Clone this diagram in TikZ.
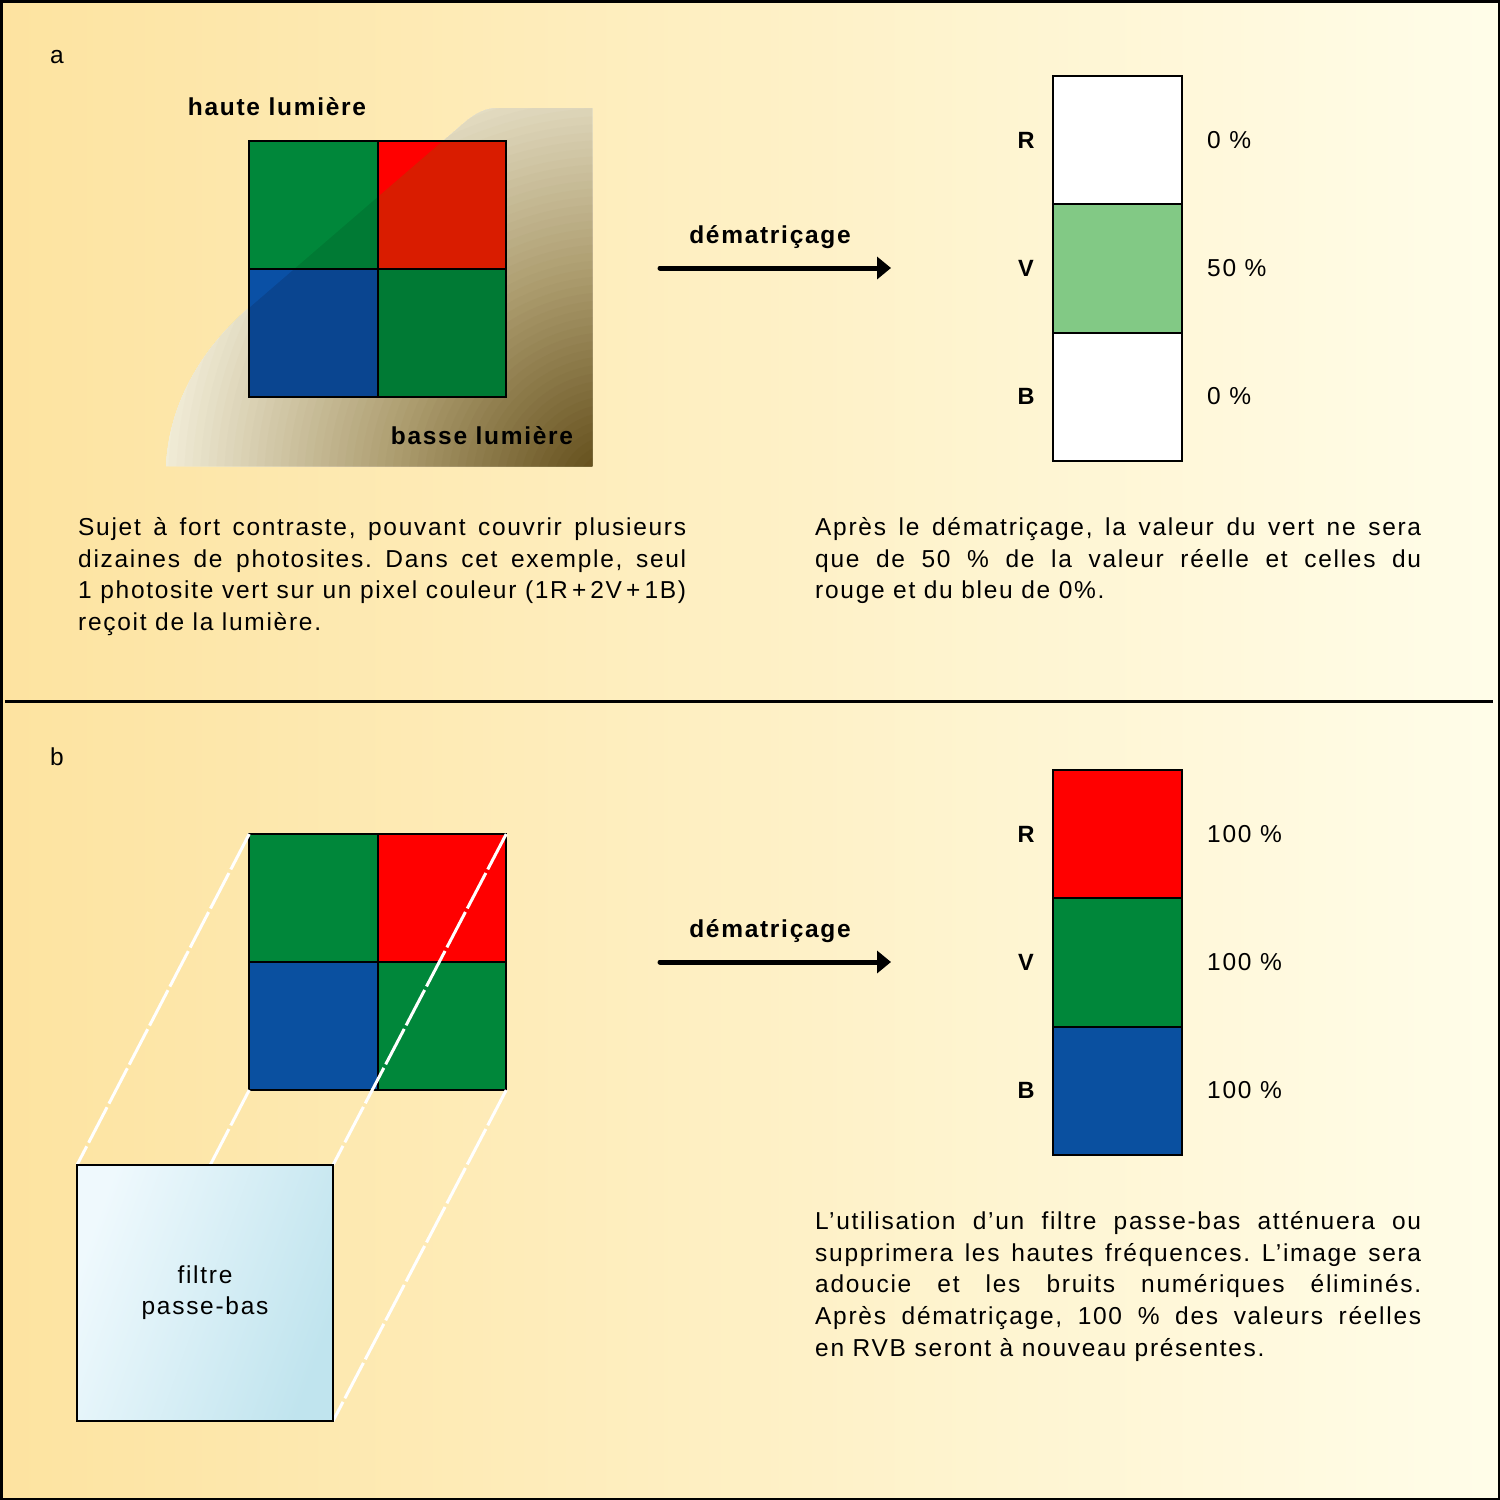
\documentclass[tikz,border=0pt]{standalone}
\usepackage{fontspec}
\setmainfont{Liberation Sans}[LetterSpace=7]
\usetikzlibrary{arrows.meta}
\definecolor{bgl}{HTML}{FDE3A0}
\definecolor{bgr}{HTML}{FFFDE9}
\definecolor{gH}{HTML}{00873A}
\definecolor{gS}{HTML}{007A34}
\definecolor{rH}{HTML}{FF0000}
\definecolor{rS}{HTML}{D91C00}
\definecolor{bH}{HTML}{0A50A5}
\definecolor{bS}{HTML}{0A4590}
\definecolor{bB}{HTML}{0A50A0}
\definecolor{lg}{HTML}{82C985}
\definecolor{shdark}{HTML}{5A4410}
\definecolor{shmid}{HTML}{AC9C6E}
\definecolor{shlight}{HTML}{F7F3E0}
\definecolor{fl}{HTML}{EFF9FD}
\definecolor{fr}{HTML}{C0E4EE}
\newcommand\jl[1]{\hbox to \hsize{#1}}
\newcommand\lastl[1]{\hbox{#1}}
\newcommand\para[2]{\vtop{\hsize=#1\relax\fontsize{24.5}{31.7}\selectfont\frenchspacing #2}}
\begin{document}
\begin{tikzpicture}[x=1pt,y=-1pt,
  cell/.style={draw=black, line width=2.2pt, minimum width=128.5pt, minimum height=128pt, inner sep=0pt, outer sep=0pt},
  bar/.style={draw=black, line width=2pt, minimum width=129pt, minimum height=128.33pt, inner sep=0pt, outer sep=0pt},
  lab/.style={font=\fontsize{24.5}{28}\selectfont, inner sep=0pt},
  blab/.style={font=\fontsize{24.5}{28}\selectfont\bfseries, inner sep=0pt},
  rlab/.style={font=\fontsize{23.5}{28}\selectfont\bfseries, inner sep=0pt},
  txt/.style={inner sep=0pt, anchor=base west},
  conv/.style={line width=5pt, line cap=round, -{Triangle[length=14pt,width=22pt]}},
  proj/.style={white, line width=3pt, dash pattern=on 40pt off 4pt}]
\useasboundingbox (0,0) rectangle (1500,1500);
\shade[left color=bgl, right color=bgr] (0,0) rectangle (1500,1500);
\draw[line width=2.5pt] (1.25,1.25) rectangle (1498.75,1498.75);
\draw[line width=3pt] (5,701) -- (1493,701);

% ---------------- panel a ----------------
\node[lab] (la) at (57,57) {a};
\begin{scope}
\clip (166,466) .. controls (170,390) and (215,337) .. (250,307) -- (455,131) .. controls (470,118) and (480,108) .. (500,108) -- (592,108) -- (592,466) -- cycle;
\foreach \r in {476,468,...,4} {
  \pgfmathsetmacro\pa{min(100,max(0,\r/220*100))}
  \pgfmathsetmacro\pb{min(100,max(0,(\r-220)/250*100))}
  \ifdim \r pt < 220pt \colorlet{cc}{shmid!\pa!shdark}\else\colorlet{cc}{shlight!\pb!shmid}\fi
  \fill[cc] (612,488) circle[radius=\r];
}
\end{scope}
\node[blab] (haute) at (277,107) {haute lumière};
\node[blab] (basse) at (482,436) {basse lumière};
% shadowed colours
\fill[gS] (249,141) rectangle (378,269);
\fill[rS] (378,141) rectangle (506,269);
\fill[bS] (249,269) rectangle (378,397);
\fill[gS] (378,269) rectangle (506,397);
\begin{scope}
\clip (100,100) -- (490,100) -- (119,420) -- (100,420) -- cycle;
\fill[gH] (249,141) rectangle (378,269);
\fill[rH] (378,141) rectangle (506,269);
\fill[bH] (249,269) rectangle (378,397);
\end{scope}
\node[cell] (a11) at (313.5,205) {};
\node[cell] (a12) at (442,205) {};
\node[cell] (a21) at (313.5,333) {};
\node[cell] (a22) at (442,333) {};

\node[blab] (dema) at (770,237) {dématriçage};
\coordinate (sa) at (660,268);
\coordinate (ea) at (891,268);
\draw[conv] (sa) -- (ea);

\node[bar, fill=white] (aRb) at (1117.5,140.17) {};
\node[bar, fill=lg] (aVb) at (1117.5,268.5) {};
\node[bar, fill=white] (aBb) at (1117.5,396.83) {};
\node[rlab] (aR) at (1026,140) {R};
\node[rlab] (aV) at (1026,268) {V};
\node[rlab] (aB) at (1026,396) {B};
\node[lab, anchor=west] (aRp) at (1207,140) {0 \%};
\node[lab, anchor=west] (aVp) at (1207,268) {50 \%};
\node[lab, anchor=west] (aBp) at (1207,396) {0 \%};

\node[txt] (ta1) at (78,535.5) {\para{608pt}{%
\jl{Sujet à fort contraste, pouvant couvrir plusieurs}
\jl{dizaines de photosites. Dans cet exemple, seul}
\jl{1 photosite vert sur un pixel couleur (1R\,+\,2V\,+\,1B)}
\lastl{reçoit de la lumière.}}};
\node[txt] (ta2) at (815,535.5) {\para{606pt}{%
\jl{Après le dématriçage, la valeur du vert ne sera}
\jl{que de 50 \% de la valeur réelle et celles du}
\lastl{rouge et du bleu de 0\%.}}};

% ---------------- panel b ----------------
\node[lab] (lb) at (57,757) {b};
\node[cell, fill=gH] (b11) at (313.5,898) {};
\node[cell, fill=rH] (b12) at (442,898) {};
\node[cell, fill=bB] (b21) at (313.5,1026) {};
\node[cell, fill=gH] (b22) at (442,1026) {};
\coordinate (fTL) at (77,1165);
\coordinate (fTR) at (333,1165);
\coordinate (fBL) at (77,1421);
\coordinate (fBR) at (333,1421);
\draw[proj] (b11.north west) -- (fTL);
\draw[proj] (b12.north east) -- (fTR);
\draw[proj] (b21.south west) -- (fBL);
\draw[proj] (b22.south east) -- (fBR);
\node[draw=black, line width=1.8pt, left color=fl, right color=fr, shading angle=70, minimum width=256pt, minimum height=256pt, inner sep=0pt, outer sep=0pt, align=center, font=\fontsize{24.5}{31}\selectfont] (filt) at (205,1293) {filtre\\passe-bas};

\node[blab] (demb) at (770,931) {dématriçage};
\coordinate (sb) at (660,962);
\coordinate (eb) at (891,962);
\draw[conv] (sb) -- (eb);

\node[bar, fill=rH] (bRb) at (1117.5,834.17) {};
\node[bar, fill=gH] (bVb) at (1117.5,962.5) {};
\node[bar, fill=bB] (bBb) at (1117.5,1090.83) {};
\node[rlab] (bR) at (1026,834) {R};
\node[rlab] (bV) at (1026,962) {V};
\node[rlab] (bB) at (1026,1090) {B};
\node[lab, anchor=west] (bRp) at (1207,834) {100 \%};
\node[lab, anchor=west] (bVp) at (1207,962) {100 \%};
\node[lab, anchor=west] (bBp) at (1207,1090) {100 \%};

\node[txt] (tb) at (815,1229.5) {\para{606pt}{%
\jl{L’utilisation d’un filtre passe-bas atténuera ou}
\jl{supprimera les hautes fréquences. L’image sera}
\jl{adoucie et les bruits numériques éliminés.}
\jl{Après dématriçage, 100 \% des valeurs réelles}
\lastl{en RVB seront à nouveau présentes.}}};
\end{tikzpicture}
\end{document}
